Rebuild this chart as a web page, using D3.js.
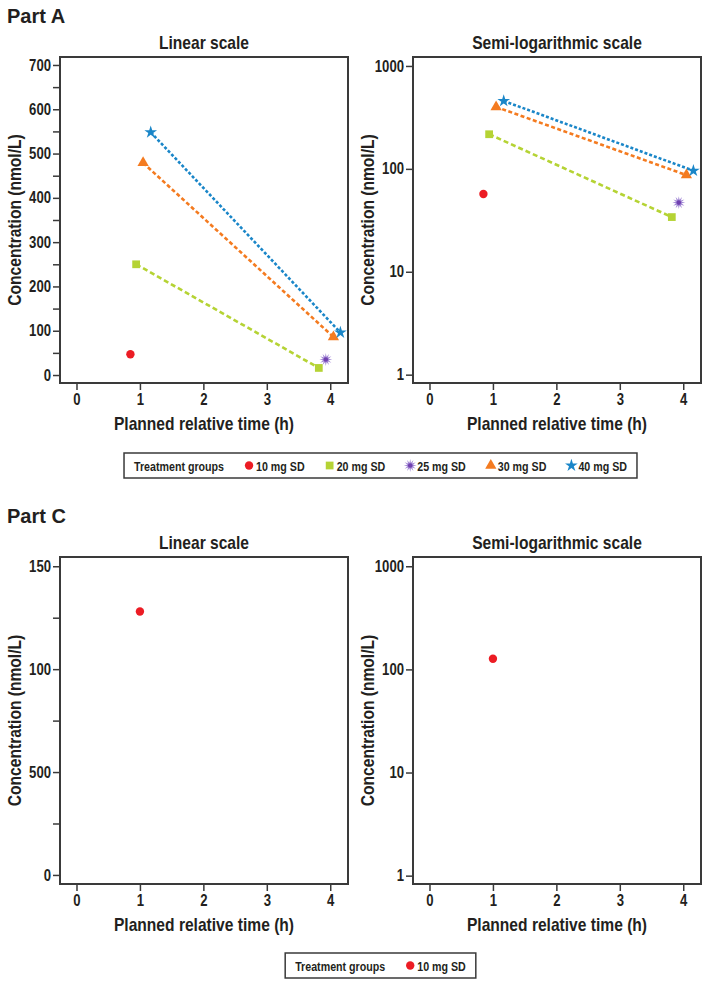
<!DOCTYPE html>
<html>
<head>
<meta charset="utf-8">
<script src="https://cdn.jsdelivr.net/npm/d3@7"></script>
<style>
  body { margin: 0; background: #fff; }
  svg text { font-family: 'Liberation Sans Narrow', 'Arial Narrow', 'Liberation Sans', Arial, sans-serif; font-weight: bold; fill: #231f20; }
  svg text.wide { font-family: 'Liberation Sans', Arial, sans-serif; }
</style>
</head>
<body>
<svg id="chart" width="709" height="988"></svg>
<script>
// ---- data ----
const groups = ["10 mg SD", "20 mg SD", "25 mg SD", "30 mg SD", "40 mg SD"]

// Part A: planned relative time (h) per group
const timesA = [[0.85], [0.94, 3.82], [3.93], [1.05, 4.05], [1.17, 4.16]]
// Part A: concentrations shown in the linear panel (nmol/L)
const concLinearA = [[47], [250, 16], [35], [479, 86], [548, 96]]
// Part A: concentrations shown in the semi-log panel (nmol/L)
const concLogA = [[57], [217, 34], [47], [400, 87], [457, 96]]

// Part C: only the 10 mg SD group
const groupsC = ["10 mg SD"]
const timesC = [[1.0]]
const concLinearC = [[128]]
const concLogC = [[127]]

const xTicks = [0, 1, 2, 3, 4]
const yTicksLinA = [0, 100, 200, 300, 400, 500, 600, 700]
const yMinorLinA = [50, 150, 250, 350, 450, 550, 650]
const yTicksLinC = [0, 50, 100, 150]
const yTickLabelsLinC = ["0", "500", "100", "150"]
const yMinorLinC = [25, 75, 125]
const yTicksLog = [1, 10, 100, 1000]

// ---- styles ----
const colors = {
    "10 mg SD": "#ec1c24",
    "20 mg SD": "#b5d334",
    "25 mg SD": "#a58bd6",
    "30 mg SD": "#f47b20",
    "40 mg SD": "#1a86c8"
}
const dashes = {
    "20 mg SD": "5,3",
    "30 mg SD": "4,2.5",
    "40 mg SD": "3,2"
}

const starburst = {
    draw(ctx, size) {
        const R = Math.sqrt(size) * 0.72, r = R * 0.45, n = 12
        for (let k = 0; k < 2 * n; k++) {
            const a = k * Math.PI / n
            const rr = k % 2 ? r : R
            if (k === 0) ctx.moveTo(rr * Math.cos(a), rr * Math.sin(a))
            else ctx.lineTo(rr * Math.cos(a), rr * Math.sin(a))
        }
        ctx.closePath()
    }
}
const symbolTypes = {
    "10 mg SD": [d3.symbolCircle, 55],
    "20 mg SD": [d3.symbolSquare, 60],
    "25 mg SD": [starburst, 80],
    "30 mg SD": [d3.symbolTriangle, 55],
    "40 mg SD": [d3.symbolStar, 50]
}

// the narrow face may be missing: squeeze regular bold text instead
const hasNarrow = (() => {
    const c = document.createElement("canvas").getContext("2d")
    c.font = "bold 50px 'Liberation Sans Narrow', monospace"
    const a = c.measureText("Treatment groups 0123").width
    c.font = "bold 50px monospace"
    return a !== c.measureText("Treatment groups 0123").width
})()
const squeezeK = hasNarrow ? 1 : 0.82

function squeeze(node) {
    const len = node.getComputedTextLength()
    if (!hasNarrow) {
        node.setAttribute("textLength", len * squeezeK)
        node.setAttribute("lengthAdjust", "spacingAndGlyphs")
    }
    return len * squeezeK
}

const svg = d3.select("#chart")
const xDomain = [-0.26, 4.28]
const tickColor = "#3a3a3a"

function drawMarker(g, group, cx, cy) {
    const [type, size] = symbolTypes[group]
    g.append("path")
        .attr("d", d3.symbol().type(type).size(size)())
        .attr("transform", `translate(${cx},${cy})`)
        .attr("fill", colors[group])
    if (group === "25 mg SD") {
        g.append("circle").attr("cx", cx).attr("cy", cy).attr("r", 2.3).attr("fill", "#7040b0")
    }
}

function drawPanel(p) {
    const x = d3.scaleLinear().domain(xDomain).range([p.x0, p.x1])
    const y = (p.log ? d3.scaleLog() : d3.scaleLinear()).domain(p.yDomain).range([p.y1, p.y0])
    const g = svg.append("g")

    // minor ticks on linear axes
    if (p.minor) {
        g.append("g")
            .attr("transform", `translate(${p.x0},0)`)
            .call(d3.axisLeft(y).tickValues(p.minor).tickSize(7).tickFormat(""))
            .call(s => s.select(".domain").remove())
    }

    const yAxis = g.append("g")
        .attr("transform", `translate(${p.x0},0)`)
        .call(d3.axisLeft(y).tickValues(p.ticks).tickSize(7).tickPadding(2)
            .tickFormat(d => p.labels ? p.labels[p.ticks.indexOf(d)] : d3.format("d")(d)))
    yAxis.select(".domain").remove()

    const xAxis = g.append("g")
        .attr("transform", `translate(0,${p.y1})`)
        .call(d3.axisBottom(x).tickValues(xTicks).tickSize(7).tickPadding(4).tickFormat(d3.format("d")))
    xAxis.select(".domain").remove()

    g.selectAll(".tick line").attr("stroke", tickColor).attr("stroke-width", 1.5)
    g.selectAll(".tick text").style("font-size", "16px").attr("fill", "#231f20")

    // frame
    g.append("rect")
        .attr("x", p.x0).attr("y", p.y0)
        .attr("width", p.x1 - p.x0).attr("height", p.y1 - p.y0)
        .attr("fill", "none").attr("stroke", tickColor).attr("stroke-width", 2)

    g.append("text")
        .attr("x", (p.x0 + p.x1) / 2).attr("y", p.y0 - 8)
        .attr("text-anchor", "middle").style("font-size", "19px")
        .text(p.title)

    g.append("text")
        .attr("x", (p.x0 + p.x1) / 2).attr("y", p.y1 + 47)
        .attr("text-anchor", "middle").style("font-size", "19px")
        .text("Planned relative time (h)")

    g.append("text")
        .attr("transform", `translate(${p.x0 - 39},${(p.y0 + p.y1) / 2}) rotate(-90)`)
        .attr("text-anchor", "middle").style("font-size", "19px")
        .text("Concentration (nmol/L)")

    const line = d3.line().x(d => x(d[0])).y(d => y(d[1]))

    p.groups.forEach((grp, i) => {
        const pts = p.times[i].map((t, j) => [t, p.conc[i][j]])
        if (pts.length > 1) {
            g.append("path")
                .attr("d", line(pts))
                .attr("fill", "none")
                .attr("stroke", colors[grp])
                .attr("stroke-width", 2.6)
                .attr("stroke-dasharray", dashes[grp])
        }
    })
    p.groups.forEach((grp, i) => {
        p.times[i].forEach((t, j) => drawMarker(g, grp, x(t), y(p.conc[i][j])))
    })
    g.selectAll("text").each(function () { squeeze(this) })
}

function drawLegend(items, cx, top) {
    const g = svg.append("g")
    const h = 25
    const box = g.append("rect").attr("y", top).attr("height", h)
        .attr("fill", "#fff").attr("stroke", tickColor).attr("stroke-width", 1.5)
    let xpos = 10
    const label = g.append("text").attr("x", xpos).attr("y", top + 17.5).style("font-size", "13px").text("Treatment groups")
    xpos += squeeze(label.node())
    items.forEach(grp => {
        xpos += 25
        drawMarker(g, grp, xpos, top + h / 2)
        xpos += 7
        const t = g.append("text").attr("x", xpos).attr("y", top + 17.5).style("font-size", "13px").text(grp)
        xpos += squeeze(t.node())
    })
    xpos += 10
    box.attr("x", 0).attr("width", xpos)
    g.attr("transform", `translate(${cx - xpos / 2},0)`)
}

// ---- Part A ----
svg.append("text").attr("class", "wide").attr("x", 7).attr("y", 23).style("font-size", "20px").text("Part A")

drawPanel({
    x0: 60, x1: 348, y0: 57, y1: 383, title: "Linear scale",
    log: false, yDomain: [-18, 718], ticks: yTicksLinA, minor: yMinorLinA,
    groups: groups, times: timesA, conc: concLinearA
})
drawPanel({
    x0: 413, x1: 701, y0: 57, y1: 383, title: "Semi-logarithmic scale",
    log: true, yDomain: [0.83, 1222], ticks: yTicksLog,
    groups: groups, times: timesA, conc: concLogA
})
drawLegend(groups, 380.5, 453)

// ---- Part C ----
svg.append("text").attr("class", "wide").attr("x", 7).attr("y", 523).style("font-size", "20px").text("Part C")

drawPanel({
    x0: 60, x1: 348, y0: 557, y1: 884, title: "Linear scale",
    log: false, yDomain: [-4.4, 154.5], ticks: yTicksLinC, labels: yTickLabelsLinC, minor: yMinorLinC,
    groups: groupsC, times: timesC, conc: concLinearC
})
drawPanel({
    x0: 413, x1: 701, y0: 557, y1: 884, title: "Semi-logarithmic scale",
    log: true, yDomain: [0.83, 1230], ticks: yTicksLog,
    groups: groupsC, times: timesC, conc: concLogC
})
drawLegend(groupsC, 380.5, 953)
</script>
</body>
</html>
